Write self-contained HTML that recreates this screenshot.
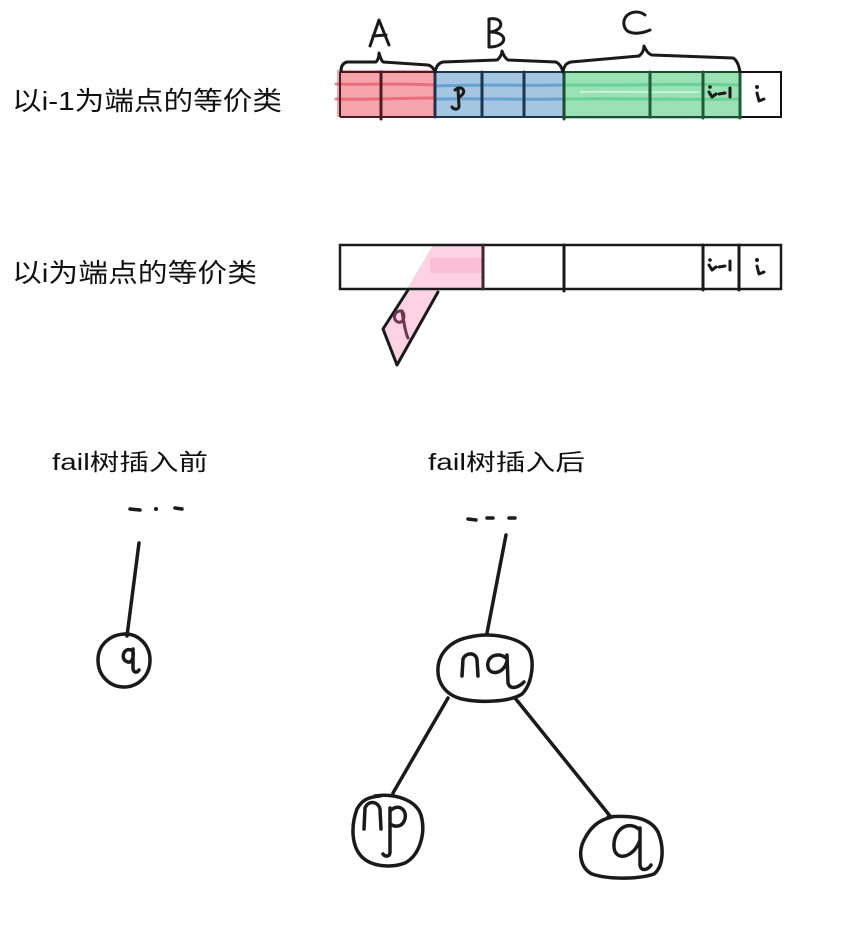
<!DOCTYPE html>
<html><head><meta charset="utf-8"><style>
html,body{margin:0;padding:0;background:#fff;}
svg{display:block;}
text{font-family:"Liberation Sans","Noto Sans CJK SC",sans-serif;fill:#111;}
</style></head><body>
<svg width="859" height="928" viewBox="0 0 859 928" xmlns="http://www.w3.org/2000/svg">
<rect width="859" height="928" fill="#fff"/>

<!-- Labels -->
<text x="12" y="110" font-size="26" textLength="270" lengthAdjust="spacingAndGlyphs">以i-1为端点的等价类</text>
<text x="12" y="282" font-size="26" textLength="245" lengthAdjust="spacingAndGlyphs">以i为端点的等价类</text>
<text x="52" y="470" font-size="23" textLength="156" lengthAdjust="spacingAndGlyphs">fail树插入前</text>
<text x="428" y="470" font-size="23" textLength="157" lengthAdjust="spacingAndGlyphs">fail树插入后</text>

<!-- ===== Row 1 ===== -->
<!-- fills -->
<rect x="337" y="70" width="98" height="47" fill="#f5a4ac"/>
<rect x="435" y="71" width="128" height="46" fill="#a5c6e3"/>
<rect x="563" y="71" width="177" height="48" fill="#9ae1b6"/>
<!-- stripes -->
<g stroke-width="3" fill="none" stroke-linecap="round" opacity="0.8">
<path d="M336,84 C370,85 400,83 434,85" stroke="#e8606f"/>
<path d="M336,99 C370,100 400,98 434,98" stroke="#e8606f"/>
<path d="M436,86 C480,84 520,86 562,85" stroke="#5b98cb"/>
<path d="M436,99 C480,98 520,100 562,99" stroke="#5b98cb"/>
<path d="M565,85 C620,86 680,83 738,85" stroke="#5fcf8c"/>
<path d="M565,99 C620,98 680,100 738,99" stroke="#5fcf8c"/>
</g>
<path d="M580,92 C620,91 650,93 700,92" stroke="#eafff2" stroke-width="1.5" fill="none" opacity="0.7"/>
<!-- outlines -->
<g fill="none" stroke-width="2">
<path d="M340,72 L435,72 M340,117 L435,117 M340,72 L340,117" stroke="#4a1c22"/>
<path d="M435,72 L563,72 M435,117 L563,117" stroke="#1b3550"/>
<path d="M563,72 L740,72 M563,117 L740,117" stroke="#1d4a30"/>
<path d="M740,72 L781,72 L781,117 L740,117" stroke="#111"/>
</g>
<g fill="none" stroke-width="3" stroke-linecap="round">
<path d="M381,72 L381,119" stroke="#4a1c22"/>
<path d="M435,72 L435,117" stroke="#1b3550"/>
<path d="M482,72 L482,116" stroke="#1b3550"/>
<path d="M524,72 L524,116" stroke="#1b3550"/>
<path d="M564,72 L564,119" stroke="#1d4a30"/>
<path d="M650,72 L650,117" stroke="#1d5a35"/>
<path d="M703,72 L703,118" stroke="#1d5a35"/>
<path d="M740,72 L740,118" stroke="#1d5a35"/>
</g>

<!-- braces and letters -->
<g fill="none" stroke="#1a1a1a" stroke-width="3" stroke-linecap="round" stroke-linejoin="round">
<path d="M341,71 C341,66 343,63 347,62 L376,62 C378,60 379,56 379,53 C380,56 381,60 383,62 L428,65 C432,66 434,69 435,72"/>
<path d="M435,72 C436,67 438,63 443,62 L497,60 C500,58 502,54 502,51 C503,54 505,58 508,60 L556,62 C560,64 562,68 563,72"/>
<path d="M563,72 C564,66 566,63 571,62 L639,56 C642,54 644,50 644,46 C646,50 648,54 652,55 L733,58 C737,60 739,66 740,72"/>
<path d="M370,46 L379,20 L389,45 M373,36 L386,35"/>
<path d="M489,19 L489,47 M489,19 C503,16 506,30 490,32 C509,32 508,47 489,47"/>
<path d="M645,15 C636,8 622,14 624,25 C626,36 641,34 650,30"/>
<!-- p -->
<path d="M455,90 C461,84 469,92 459,97 M458,89 L459,106 C459,110 454,110 452,107"/>
<!-- i-1 -->
<path d="M709,92 L712,97 L716,94 M719,94 L725,93 M730,88 L730,97"/>
<path d="M757,93 L759,101 L764,99"/>
</g>
<circle cx="710" cy="87" r="1.8" fill="#1a1a1a"/>
<circle cx="757" cy="87" r="2" fill="#1a1a1a"/>

<!-- ===== Row 2 ===== -->
<polygon points="433,245 483,245 483,289 438,290 397,365 383,329" fill="#fdd3e4"/>
<rect x="430" y="258" width="52" height="15" fill="#f9b9d2" opacity="0.8"/>
<g fill="none" stroke="#1a1a1a" stroke-width="2.5" stroke-linecap="round">
<rect x="340" y="245" width="441" height="44"/>
</g>
<g fill="none" stroke="#1a1a1a" stroke-width="3" stroke-linecap="round" stroke-linejoin="round">
<path d="M483,245 L483,289" stroke="#3a2a30"/>
<path d="M564,245 L564,291"/>
<path d="M703,245 L703,290"/>
<path d="M739,245 L739,290"/>
<path d="M408,290 L383,329 L397,365 L438,292"/>
<path d="M709,265 L712,270 L716,267 M719,267 L725,266 M730,261 L730,270"/>
<path d="M757,266 L759,274 L764,272"/>
</g>
<circle cx="710" cy="260" r="1.8" fill="#1a1a1a"/>
<circle cx="757" cy="260" r="2" fill="#1a1a1a"/>
<path d="M402,311 C394,310 392,320 398,322 C403,324 406,316 402,311 M402,312 C404,322 405,332 408,338" fill="none" stroke="#6d3550" stroke-width="3" stroke-linecap="round"/>

<!-- ===== Tree before ===== -->
<g fill="none" stroke="#1a1a1a" stroke-width="3.5" stroke-linecap="round" stroke-linejoin="round">
<path d="M130,509 L140,510 M175,508 L182,509"/>
<path d="M139,543 L127,636"/>
<path d="M124,634 C138,633 150,645 150,660 C150,676 138,687 124,687 C110,687 98,676 98,660 C98,645 110,634 126,634"/>
<path d="M133,651 C124,645 119,660 128,662 C132,663 134,657 133,651 M133,649 L133,669 C134,673 137,673 139,670"/>
</g>
<circle cx="156" cy="509" r="2" fill="#1a1a1a"/>

<!-- ===== Tree after ===== -->
<g fill="none" stroke="#1a1a1a" stroke-width="3.5" stroke-linecap="round" stroke-linejoin="round">
<path d="M468,519 L476,520 M487,518 L493,518 M509,518 L515,518"/>
<path d="M506,535 L487,633"/>
<path d="M448,698 L393,793"/>
<path d="M515,698 L610,816"/>
<!-- nq ellipse -->
<path d="M470,637 C490,632 520,637 529,650 C535,662 532,684 522,694 C510,702 480,703 462,699 C445,695 437,682 438,668 C439,652 452,640 470,637"/>
<path d="M462,676 L463,659 C466,652 476,652 477,660 L478,676"/>
<path d="M506,658 C497,651 486,657 488,667 C490,676 504,674 507,661 M507,655 L508,683 C510,690 518,688 524,682"/>
<!-- np -->
<path d="M375,796 C395,793 416,800 421,815 C426,833 420,855 405,863 C392,868 372,867 362,857 C351,846 351,825 357,809 C362,800 368,797 380,796"/>
<path d="M364,829 L365,808 C368,800 378,801 380,809 L381,829"/>
<path d="M390,808 L390,852 C390,857 385,857 383,854 M390,811 C400,801 410,813 403,823 C399,828 393,826 390,824"/>
<!-- q blob -->
<path d="M608,817 C630,815 650,817 658,832 C664,846 664,866 654,874 C640,879 610,880 592,874 C580,868 578,852 584,840 C590,828 598,820 612,817"/>
<path d="M640,830 C628,819 613,830 614,847 C615,862 634,858 640,840 M640,828 L640,865 C641,872 648,870 651,865"/>
</g>
</svg>
</body></html>
